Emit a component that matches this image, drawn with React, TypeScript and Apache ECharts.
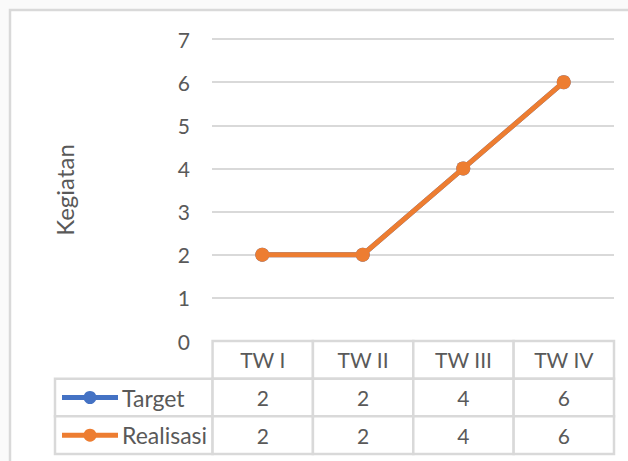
import React, { useEffect, useRef } from "react";
import * as echarts from "echarts";

const categories = ["TW I", "TW II", "TW III", "TW IV"];
const targetValues = [2, 2, 4, 6];
const realisasiValues = [2, 2, 4, 6];
const seriesNames = ["Target", "Realisasi"];
const seriesColors = ["#4472C4", "#ED7D31"];
const yTicks = [0, 1, 2, 3, 4, 5, 6, 7];
const yTitle = "Kegiatan";

const FONT = "Lato";
const TEXT_COLOR = "#595959";
const GRID_COLOR = "#d9d9d9";
const LEGEND_COL = 1.57; // legend column width in category units

export default function App() {
  const ref = useRef<HTMLDivElement>(null);
  useEffect(() => {
    if (!ref.current) return;
    const chart = echarts.init(ref.current, null, { renderer: "svg" });
    const rows = [targetValues, realisasiValues];

    type Cell = { x0: number; x1: number; row: number; text: string; legend: number };
    const cells: Cell[] = [];
    categories.forEach((c, i) => cells.push({ x0: i, x1: i + 1, row: 0, text: c, legend: -1 }));
    rows.forEach((vals, r) => {
      cells.push({ x0: -LEGEND_COL, x1: 0, row: r + 1, text: seriesNames[r], legend: r });
      vals.forEach((v, i) => cells.push({ x0: i, x1: i + 1, row: r + 1, text: String(v), legend: -1 }));
    });

    chart.setOption({
      animation: false,
      backgroundColor: "#fafafa",
      graphic: [
        {
          type: "rect",
          shape: { x: 10, y: 10, width: 700, height: 600 },
          style: { fill: "#ffffff", stroke: GRID_COLOR, lineWidth: 2.5 },
          z: -10,
          silent: true,
        },
      ],
      grid: [
        { left: 212, right: 14, top: 39, bottom: 120 },
        { left: 55, right: 14, top: 341, bottom: 7 },
      ],
      xAxis: [
        {
          gridIndex: 0,
          type: "category",
          data: categories,
          boundaryGap: true,
          axisLine: { show: false },
          axisTick: { show: false },
          axisLabel: { show: false },
        },
        {
          gridIndex: 1,
          type: "value",
          min: -LEGEND_COL,
          max: categories.length,
          show: false,
        },
      ],
      yAxis: [
        {
          gridIndex: 0,
          type: "value",
          min: yTicks[0],
          max: yTicks[yTicks.length - 1],
          interval: 1,
          name: yTitle,
          nameLocation: "middle",
          nameRotate: 90,
          nameGap: 136,
          nameTextStyle: { color: TEXT_COLOR, fontSize: 24, fontFamily: FONT },
          axisLine: { show: false },
          axisTick: { show: false },
          axisLabel: { color: TEXT_COLOR, fontSize: 21, fontFamily: FONT, margin: 22 },
          splitLine: { lineStyle: { color: GRID_COLOR, width: 2 } },
        },
        {
          gridIndex: 1,
          type: "value",
          min: 0,
          max: 3,
          inverse: true,
          show: false,
        },
      ],
      series: [
        ...[targetValues, realisasiValues].map((vals, i) => ({
          type: "line",
          name: seriesNames[i],
          xAxisIndex: 0,
          yAxisIndex: 0,
          data: vals,
          symbol: "circle",
          symbolSize: 14,
          lineStyle: { color: seriesColors[i], width: 5 },
          itemStyle: { color: seriesColors[i] },
          z: 3 + i,
        })),
        {
          type: "custom",
          xAxisIndex: 1,
          yAxisIndex: 1,
          clip: false,
          encode: { x: [0, 1], y: 2 },
          data: cells.map((c) => [c.x0, c.x1, c.row]),
          renderItem: (params: any, api: any) => {
            const cell = cells[params.dataIndex];
            const p0 = api.coord([api.value(0), api.value(2)]);
            const p1 = api.coord([api.value(1), api.value(2) + 1]);
            const x = p0[0], y = p0[1];
            const w = p1[0] - p0[0], h = p1[1] - p0[1];
            const cy = y + h / 2;
            const children: any[] = [
              {
                type: "rect",
                shape: { x, y, width: w, height: h },
                style: { fill: "#ffffff", stroke: GRID_COLOR, lineWidth: 2.5 },
              },
            ];
            if (cell.legend >= 0) {
              const col = seriesColors[cell.legend];
              children.push(
                { type: "line", shape: { x1: x + 7, y1: cy, x2: x + 63, y2: cy }, style: { stroke: col, lineWidth: 5 } },
                { type: "circle", shape: { cx: x + 35, cy, r: 6.5 }, style: { fill: col } },
                {
                  type: "text",
                  style: { text: cell.text, x: x + 67, y: cy, align: "left", verticalAlign: "middle", fill: TEXT_COLOR, font: `23px ${FONT}` },
                }
              );
            } else {
              children.push({
                type: "text",
                style: { text: cell.text, x: x + w / 2, y: cy, align: "center", verticalAlign: "middle", fill: TEXT_COLOR, font: `21px ${FONT}` },
              });
            }
            return { type: "group", children };
          },
        },
      ],
    });
    return () => chart.dispose();
  }, []);
  return <div ref={ref} style={{ position: "fixed", left: 0, top: 0, width: 628, height: 461 }} />;
}
